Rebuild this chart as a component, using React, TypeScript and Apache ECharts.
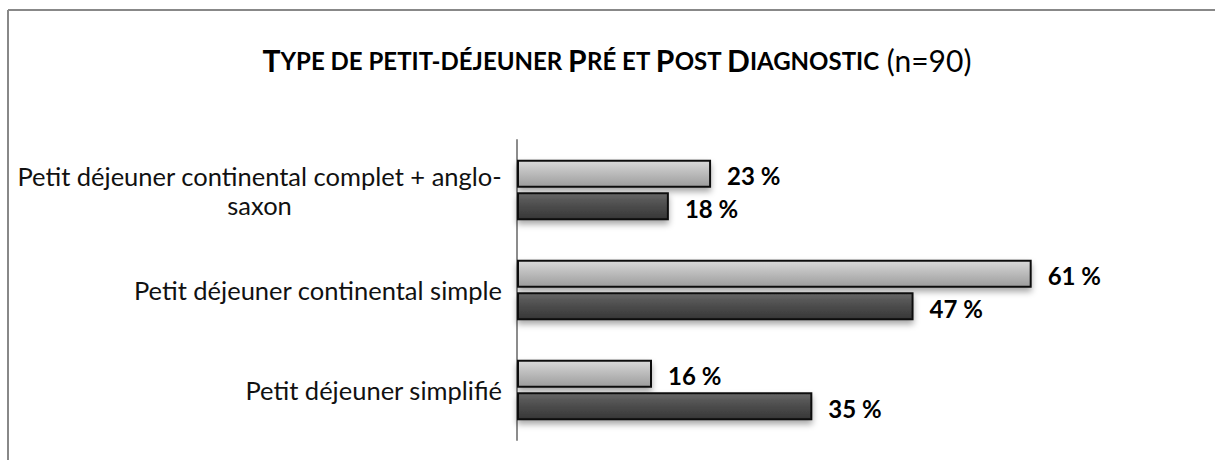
import React, { useEffect, useRef } from "react";
import * as echarts from "echarts";

const categories = [
  "Petit déjeuner simplifié",
  "Petit déjeuner continental simple",
  "Petit déjeuner continental complet + anglo-saxon",
];
const preValues = [16, 61, 23];
const postValues = [35, 47, 18];
const FONT = "Lato, 'Open Sans', sans-serif";

export default function App() {
  const ref = useRef<HTMLDivElement>(null);
  useEffect(() => {
    document.body.style.margin = "0";
    const chart = echarts.init(ref.current!, undefined, { renderer: "svg" });
    const barLabel = {
      show: true,
      position: "right",
      distance: 16,
      offset: [0, 2],
      formatter: (p: any) => `${p.value} %`,
      color: "#000",
      fontFamily: FONT,
      fontWeight: "bold",
      fontSize: 24,
    };
    chart.setOption({
      animation: false,
      backgroundColor: "#fff",
      title: {
        text:
          "{b|T}{s|YPE DE PETIT-DÉJEUNER }{b|P}{s|RÉ ET }{b|P}{s|OST }{b|D}{s|IAGNOSTIC}{n| (n=90)}",
        left: 612,
        textAlign: "center",
        top: 40,
        textStyle: {
          rich: {
            b: { fontFamily: FONT, fontWeight: "bold", fontSize: 30, color: "#000" },
            s: { fontFamily: FONT, fontWeight: "bold", fontSize: 24, color: "#000" },
            n: { fontFamily: FONT, fontWeight: "normal", fontSize: 30, color: "#000" },
          },
        },
      },
      graphic: [
        { type: "line", shape: { x1: 8, y1: 10, x2: 1215, y2: 10 }, style: { stroke: "#888", lineWidth: 2 } },
        { type: "line", shape: { x1: 8, y1: 10, x2: 8, y2: 460 }, style: { stroke: "#888", lineWidth: 2 } },
      ],
      grid: { left: 517, top: 140, width: 675, height: 300, containLabel: false },
      xAxis: {
        type: "value",
        min: 0,
        max: 80,
        show: false,
        splitLine: { show: false },
      },
      yAxis: {
        type: "category",
        data: categories,
        axisLine: { show: true, lineStyle: { color: "#8c8c8c", width: 2 } },
        axisTick: { show: false },
        axisLabel: {
          margin: 15,
          color: "#111",
          fontFamily: FONT,
          fontSize: 25.5,
          formatter: (v: string) => {
            if (v.indexOf("anglo-saxon") >= 0) {
              return "{c|Petit déjeuner continental complet + anglo-}\n{c|saxon}";
            }
            return v;
          },
          rich: {
            c: { align: "center", fontFamily: FONT, fontSize: 25.5, color: "#111", lineHeight: 29 },
          },
        },
      },
      series: [
        {
          name: "Pré",
          type: "bar",
          data: preValues,
          barWidth: 28,
          barGap: "16%",
          itemStyle: {
            color: new echarts.graphic.LinearGradient(0, 0, 0, 1, [
              { offset: 0, color: "#dadada" },
              { offset: 0.3, color: "#c6c6c6" },
              { offset: 1, color: "#9c9c9c" },
            ]),
            borderColor: "#111",
            borderWidth: 2,
            shadowBlur: 6,
            shadowOffsetY: 4,
            shadowColor: "rgba(0,0,0,0.35)",
          },
          label: barLabel,
        },
        {
          name: "Post",
          type: "bar",
          data: postValues,
          barWidth: 28,
          barGap: "16%",
          itemStyle: {
            color: new echarts.graphic.LinearGradient(0, 0, 0, 1, [
              { offset: 0, color: "#6a6a6a" },
              { offset: 0.3, color: "#555555" },
              { offset: 1, color: "#363636" },
            ]),
            borderColor: "#111",
            borderWidth: 2,
            shadowBlur: 6,
            shadowOffsetY: 4,
            shadowColor: "rgba(0,0,0,0.35)",
          },
          label: barLabel,
        },
      ],
    });
    return () => chart.dispose();
  }, []);
  return (
    <div
      ref={ref}
      style={{ position: "absolute", left: 0, top: 0, width: 1215, height: 460 }}
    />
  );
}
